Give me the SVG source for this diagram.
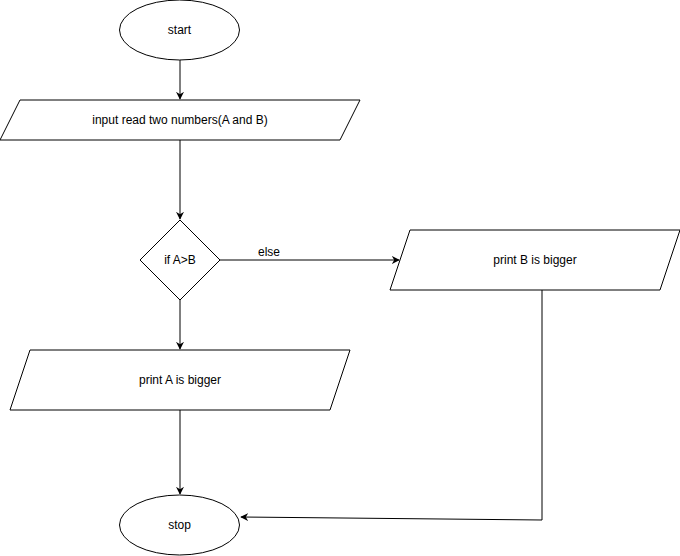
<svg xmlns="http://www.w3.org/2000/svg" width="680" height="556" viewBox="0 0 680 556">
<style>
.s{fill:#fff;stroke:#000;stroke-width:1}
.t{font-family:"Liberation Sans",Arial,sans-serif;font-size:12px;fill:#000;text-anchor:middle;dominant-baseline:central}
.c{fill:none;stroke:#000;stroke-width:1}
</style>
<defs>
<marker id="a" viewBox="0 0 10 10" refX="9" refY="5" markerWidth="8" markerHeight="8" markerUnits="userSpaceOnUse" orient="auto">
<path d="M0,0 L10,5 L0,10 L3,5 Z" fill="#000"/>
</marker>
</defs>
<rect width="680" height="556" fill="#fff"/>
<g id="connectors">
<path class="c" d="M180,60 L180,99" marker-end="url(#a)"/>
<path class="c" d="M180,140 L180,219" marker-end="url(#a)"/>
<path class="c" d="M220,260 L399,260" marker-end="url(#a)"/>
<text class="t" x="269" y="252">else</text>
<path class="c" d="M180,300 L180,349" marker-end="url(#a)"/>
<path class="c" d="M180,410 L180,494" marker-end="url(#a)"/>
<path class="c" d="M542,290 L542,520 L241,517" marker-end="url(#a)"/>
</g>
<g id="start">
<ellipse class="s" cx="179.5" cy="30" rx="60" ry="30"/>
<text class="t" x="179.5" y="30">start</text>
</g>
<g id="input">
<polygon class="s" points="20,100 360,100 340,140 0,140"/>
<text class="t" x="180" y="120">input read two numbers(A and B)</text>
</g>
<g id="decision">
<polygon class="s" points="180,220 220,260 180,300 140,260"/>
<text class="t" x="180" y="260">if A&gt;B</text>
</g>
<g id="printB">
<polygon class="s" points="410,230 680,230 660,290 390,290"/>
<text class="t" x="535" y="260">print B is bigger</text>
</g>
<g id="printA">
<polygon class="s" points="30,350 350,350 330,410 10,410"/>
<text class="t" x="180" y="380">print A is bigger</text>
</g>
<g id="stop">
<ellipse class="s" cx="179.5" cy="525" rx="60" ry="30"/>
<text class="t" x="179.5" y="525">stop</text>
</g>
</svg>
